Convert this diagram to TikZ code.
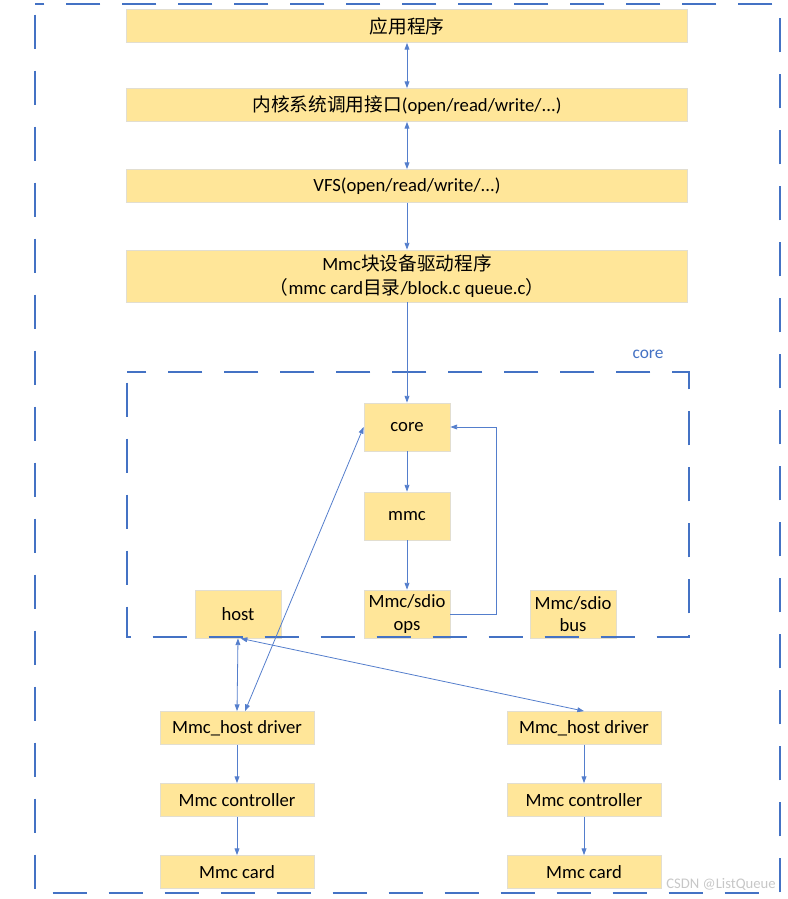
\documentclass[tikz,border=0pt]{standalone}
\usepackage{fontspec}
\setmainfont{Carlito}
\newfontfamily\cjk{Noto Sans CJK SC}
\usetikzlibrary{arrows.meta}

\definecolor{frameblue}{RGB}{68,114,196}
\definecolor{linkblue}{RGB}{84,126,204}
\definecolor{boxfill}{RGB}{255,230,153}
\definecolor{boxedge}{RGB}{226,222,208}

\tikzset{
  layer/.style={fill=boxfill, draw=boxedge, line width=0.6pt, inner sep=0pt,
    minimum width=420.75pt, minimum height=24.75pt, align=center,
    font=\fontsize{14}{18}\selectfont},
  unit/.style={layer, minimum width=64.5pt, minimum height=36pt,
    font=\fontsize{14}{17}\selectfont},
  drv/.style={layer, minimum width=115.5pt},
  link/.style={draw=linkblue, line width=0.6pt, -{Triangle[length=5pt,width=3.6pt]}},
  dlink/.style={link, {Triangle[length=5pt,width=3.6pt]}-{Triangle[length=5pt,width=3.6pt]}},
  frame/.style={draw=frameblue, line width=1.7pt, dash pattern=on 26pt off 16pt},
}

\begin{document}
\begin{tikzpicture}[x=0.75pt,y=0.75pt,yscale=-1,xscale=1]
\useasboundingbox (0,0) rectangle (788,899);

%Outer dashed frame
\draw[frame, dash phase=-8pt] (35,4) rectangle (780,893);

% Text Node
\node[text=frameblue, font=\fontsize{13}{15}\selectfont] (corelbl) at (648,354) {core};

%Layers
\node[layer] (app) at (407,26) {\cjk 应用程序};
\node[layer] (sys) at (407,105) {{\cjk 内核系统调用接口}(open/read/write/...)};
\node[layer] (vfs) at (407,186) {VFS(open/read/write/...)};
\node[layer, minimum height=39pt] (blk) at (407,276) {Mmc{\cjk 块设备驱动程序}\\{\cjk （}mmc card{\cjk 目录}/block.c queue.c{\cjk ）}};

%Core units
\node[unit] (core) at (407,427) {core};
\node[unit] (mmc) at (407,516) {mmc};
\node[unit] (ops) at (407,614) {Mmc/sdio\\ops};
\node[unit] (bus) at (573,614) {Mmc/sdio\\bus};
\node[unit] (host) at (238,614) {host};

%Inner dashed frame
\draw[frame, dash phase=-8pt] (127,372) rectangle (689,637);

%Host side
\node[drv] (drvL) at (237,728) {Mmc\_host driver};
\node[drv] (ctlL) at (237,800) {Mmc controller};
\node[drv] (cardL) at (237,872) {Mmc card};
\node[drv] (drvR) at (584,728) {Mmc\_host driver};
\node[drv] (ctlR) at (584,800) {Mmc controller};
\node[drv] (cardR) at (584,872) {Mmc card};

%Straight Lines
\draw[dlink] (app) -- (sys);
\draw[dlink] (sys) -- (vfs);
\draw[link] (vfs) -- (blk);
\draw[link] (blk) -- (core);
\draw[link] (core) -- (mmc);
\draw[link] (mmc) -- (ops);
\draw[link] (ops.east) -- ++(46,0) |- (core.east);

\draw[dlink] (host.south) -- (drvL.north);
\draw[dlink] ([xshift=6pt]drvL.north) -- (core.west);
\draw[dlink] ([xshift=2pt]host.south) -- (drvR.north);

\draw[link] (drvL) -- (ctlL);
\draw[link] (ctlL) -- (cardL);
\draw[link] (drvR) -- (ctlR);
\draw[link] (ctlR) -- (cardR);

% Text Node
\node[text=black!22, font=\fontsize{11}{13}\selectfont] (mark) at (721,884) {CSDN @ListQueue};

\end{tikzpicture}
\end{document}
